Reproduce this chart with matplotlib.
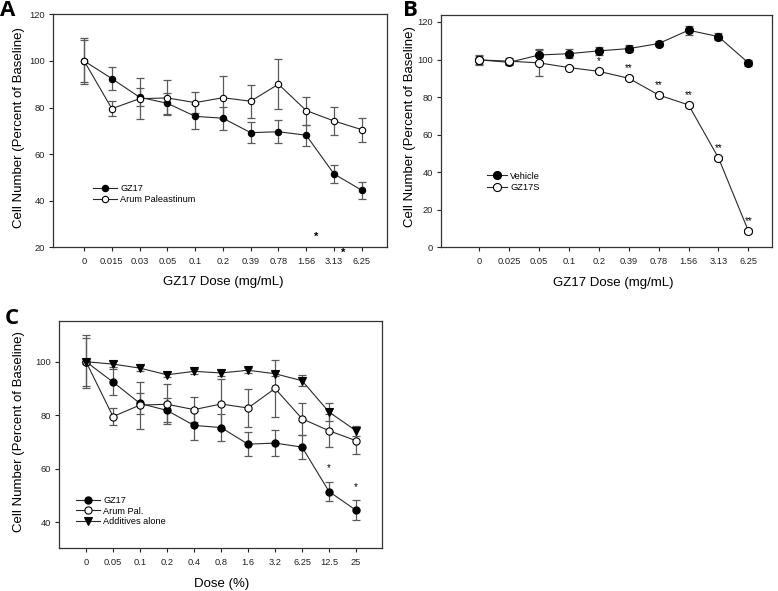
import matplotlib
matplotlib.use("Agg")
import matplotlib.pyplot as plt
import numpy as np

plt.rcParams['font.family'] = ['Liberation Sans', 'DejaVu Sans']

# ---------------- Panel A data ----------------
a_doses = ["0", "0.015", "0.03", "0.05", "0.1", "0.2", "0.39", "0.78", "1.56", "3.13", "6.25"]
a_gz17 = [100, 92.4, 84.4, 81.8, 76.2, 75.4, 69.2, 69.6, 68.1, 51.5, 44.5]
a_gz17_err = [9.0, 4.9, 3.9, 4.5, 5.4, 5.0, 4.6, 5.0, 4.5, 3.7, 3.7]
a_arum = [100, 79.5, 83.8, 84.1, 82.1, 84.2, 82.7, 90.0, 78.7, 74.2, 70.5]
a_arum_err = [10.0, 3.3, 8.8, 7.5, 4.6, 9.2, 7.0, 10.8, 6.0, 6.1, 5.1]
a_stars = [(8.36, 24.3, "*"), (9.33, 17.7, "*")]

# ---------------- Panel B data ----------------
b_doses = ["0", "0.025", "0.05", "0.1", "0.2", "0.39", "0.78", "1.56", "3.13", "6.25"]
b_vehicle = [99.8, 98.5, 102.4, 103.1, 104.6, 105.8, 108.5, 115.6, 112.2, 98.2]
b_vehicle_err = [2.0, 1.5, 3.0, 2.5, 2.0, 2.0, 1.5, 2.5, 2.0, 1.5]
b_gz17s = [99.8, 99.1, 98.2, 95.7, 93.7, 90.0, 81.1, 75.8, 47.6, 8.7]
b_gz17s_err = [2.5, 1.5, 6.8, 1.0, 1.0, 1.0, 1.0, 1.0, 1.0, 1.0]
b_stars = ["", "", "", "", "*", "**", "**", "**", "**", "**"]

# ---------------- Panel C data ----------------
c_doses = ["0", "0.05", "0.1", "0.2", "0.4", "0.8", "1.6", "3.2", "6.25", "12.5", "25"]
c_gz17 = a_gz17
c_gz17_err = a_gz17_err
c_arum = a_arum
c_arum_err = a_arum_err
c_add = [100, 99.1, 97.6, 95.1, 96.4, 95.8, 96.8, 95.5, 92.9, 81.2, 74.2]
c_add_err = [1.0, 1.0, 1.0, 1.0, 1.0, 1.0, 1.0, 1.0, 2.0, 3.4, 1.8]
c_stars = [(9, 60.2, "*"), (10, 53.3, "*")]

W, H = 778, 591
fig = plt.figure(figsize=(W / 100, H / 100), dpi=100)

def ax_at(l, r, t, b):
    return fig.add_axes([l / W, 1 - b / H, (r - l) / W, (b - t) / H])

LINE = "#2a2a2a"
ERR = "#5a5a5a"
TICKFS = 6.7
LABFS = 9.5

def style(ax):
    for s in ax.spines.values():
        s.set_color("#333333")
        s.set_linewidth(0.9)
    ax.tick_params(direction="out", length=3, width=0.8, labelsize=TICKFS,
                   colors="#222222")
    ax.tick_params(axis="x", pad=4)
    ax.tick_params(axis="y", pad=2.5)

def series(ax, x, y, e, marker, fc, ms, label):
    ax.errorbar(x, y, yerr=e, fmt="none", ecolor=ERR, elinewidth=0.9,
                capsize=3, capthick=0.9, zorder=2)
    ax.plot(x, y, color=LINE, lw=0.8, marker=marker, ms=ms, mfc=fc,
            mec="black", mew=0.8, label=label, zorder=3)

def panel_label(x, y, s):
    fig.text(x / W, 1 - y / H, s, fontsize=16, fontweight="bold",
             family=["Open Sans", "DejaVu Sans"], ha="left", va="top")

# ---------- A ----------
axA = ax_at(53, 387, 14.3, 247.3)
xa = np.arange(len(a_doses))
series(axA, xa, a_gz17, a_gz17_err, "o", "black", 4.6, "GZ17")
series(axA, xa, a_arum, a_arum_err, "o", "white", 4.6, "Arum Paleastinum")
for sx, sy, st in a_stars:
    axA.text(sx, sy, st, fontsize=8, fontweight="bold", ha="center",
             va="center", clip_on=False)
axA.set_xlim(-1.12, 10.91)
axA.set_ylim(20, 120)
axA.set_yticks([20, 40, 60, 80, 100, 120])
axA.set_xticks(xa)
axA.set_xticklabels(a_doses)
style(axA)
axA.legend(loc="center left", bbox_to_anchor=(0.12, 0.227), frameon=False,
           fontsize=6.6, handlelength=2.6, handletextpad=0.35,
           labelspacing=0.2, borderpad=0, borderaxespad=0)
fig.text(19 / W, 1 - 127.5 / H, "Cell Number (Percent of Baseline)",
         rotation=90, ha="center", va="center", fontsize=LABFS)
fig.text(223 / W, 1 - 282 / H, "GZ17 Dose (mg/mL)", ha="center", va="center",
         fontsize=LABFS)
panel_label(0, 0, "A")

# ---------- B ----------
axB = ax_at(440.7, 771.7, 15, 247.3)
xb = np.arange(len(b_doses))
series(axB, xb, b_vehicle, b_vehicle_err, "o", "black", 5.8, "Vehicle")
series(axB, xb, b_gz17s, b_gz17s_err, "o", "white", 5.8, "GZ17S")
for xi, yi, st in zip(xb, b_gz17s, b_stars):
    if st:
        axB.text(xi, yi + 5.3, st, fontsize=7, ha="center", va="center")
axB.set_xlim(-1.29, 9.78)
axB.set_ylim(0, 123.7)
axB.set_yticks([0, 20, 40, 60, 80, 100, 120])
axB.set_xticks(xb)
axB.set_xticklabels(b_doses)
style(axB)
axB.legend(loc="center left", bbox_to_anchor=(0.139, 0.282), frameon=False,
           fontsize=6.7, handlelength=2.2, handletextpad=0.35,
           labelspacing=0.25, borderpad=0, borderaxespad=0)
fig.text(409.5 / W, 1 - 127 / H, "Cell Number (Percent of Baseline)",
         rotation=90, ha="center", va="center", fontsize=LABFS)
fig.text(613 / W, 1 - 283 / H, "GZ17 Dose (mg/mL)", ha="center", va="center",
         fontsize=LABFS)
panel_label(403, 0, "B")

# ---------- C ----------
axC = ax_at(59, 381.7, 321, 548.3)
xc = np.arange(len(c_doses))
series(axC, xc, c_gz17, c_gz17_err, "o", "black", 5.2, "GZ17")
series(axC, xc, c_arum, c_arum_err, "o", "white", 5.2, "Arum Pal.")
series(axC, xc, c_add, c_add_err, "v", "black", 5.2, "Additives alone")
for sx, sy, st in c_stars:
    axC.text(sx, sy, st, fontsize=7, ha="center", va="center")
axC.set_xlim(-1.0, 10.95)
axC.set_ylim(30.3, 115.2)
axC.set_yticks([40, 60, 80, 100])
axC.set_xticks(xc)
axC.set_xticklabels(c_doses)
style(axC)
axC.legend(loc="center left", bbox_to_anchor=(0.053, 0.164), frameon=False,
           fontsize=6.6, handlelength=2.6, handletextpad=0.35,
           labelspacing=0.15, borderpad=0, borderaxespad=0)
fig.text(19 / W, 1 - 431.7 / H, "Cell Number (Percent of Baseline)",
         rotation=90, ha="center", va="center", fontsize=LABFS)
fig.text(221.5 / W, 1 - 583.5 / H, "Dose (%)", ha="center", va="center",
         fontsize=LABFS)
panel_label(5, 308, "C")

fig.savefig("out.png", dpi=100)
